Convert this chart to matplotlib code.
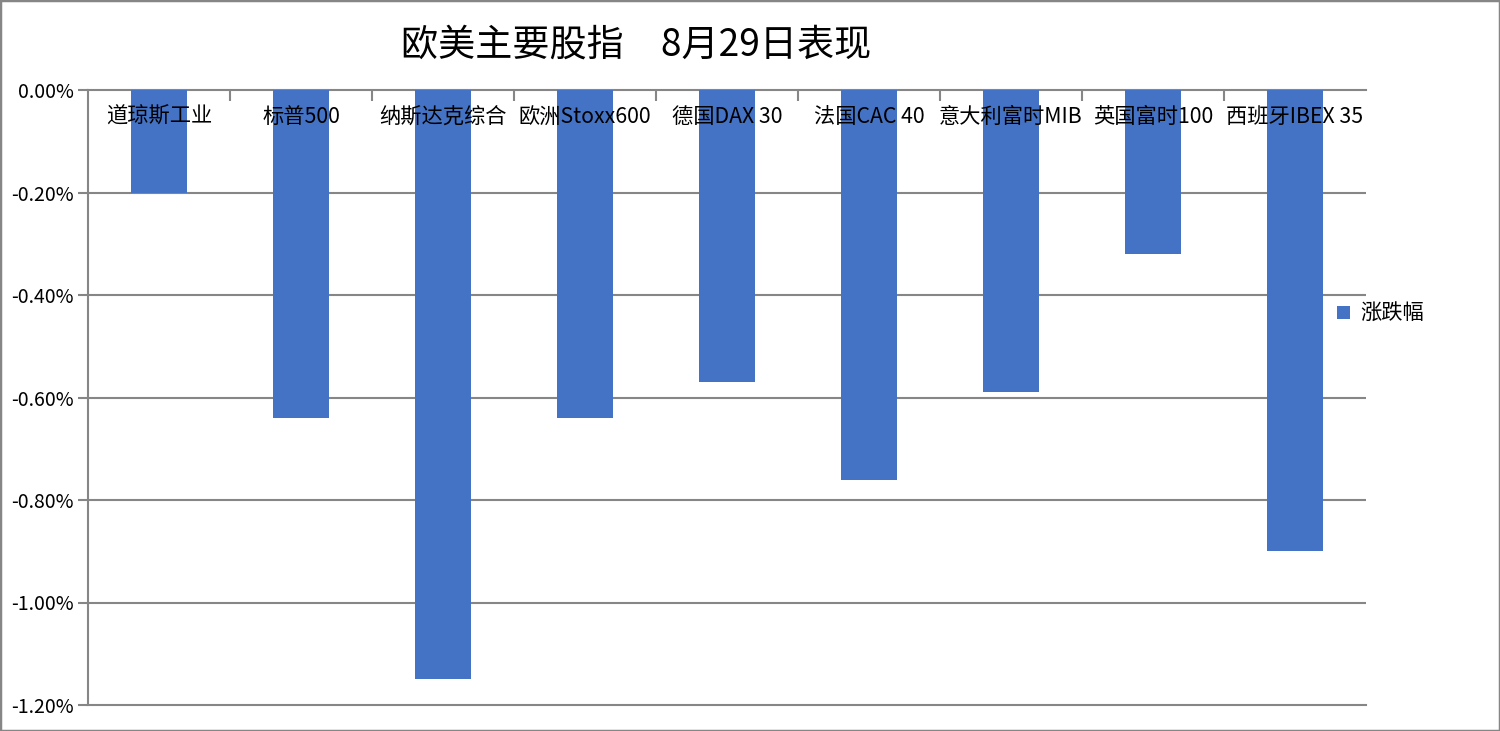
import matplotlib
matplotlib.use("Agg")
import matplotlib.pyplot as plt
from matplotlib.patches import Rectangle

plt.rcParams['font.family'] = ['Noto Sans CJK SC', 'DejaVu Sans']

# data
indices = ['道琼斯工业', '标普500', '纳斯达克综合', '欧洲Stoxx600', '德国DAX 30',
           '法国CAC 40', '意大利富时MIB', '英国富时100', '西班牙IBEX 35']
changes = [-0.20, -0.64, -1.15, -0.64, -0.57, -0.76, -0.59, -0.32, -0.90]
yticks = [0.0, -0.2, -0.4, -0.6, -0.8, -1.0, -1.2]
title = '欧美主要股指　8月29日表现'
series_name = '涨跌幅'

bar_color = '#4472C4'
line_color = '#868686'

fig = plt.figure(figsize=(15, 7.31), dpi=100)
ax = fig.add_axes([88 / 1500, 1 - 705 / 731, 1278 / 1500, 615 / 731])

x = list(range(len(indices)))
ax.bar(x, changes, width=0.4, color=bar_color, zorder=3, label=series_name)

ax.set_xlim(-0.5, len(indices) - 0.5)
ax.set_ylim(-1.2, 0)

# y axis
ax.set_yticks(yticks)
ax.set_yticklabels([f'{v:.2f}%' for v in yticks], fontsize=14)
ax.tick_params(axis='y', direction='out', length=7, width=1.5, color=line_color, pad=3)
for v in yticks[1:-1]:
    ax.axhline(v, color=line_color, lw=1.5, zorder=1)

# x axis (zero line on top) with ticks between categories
ax.set_xticks([])
ax.set_xticks([i + 0.5 for i in x[:-1]], minor=True)
ax.tick_params(axis='x', which='minor', top=True, bottom=False, direction='in',
               length=8, width=1.5, color=line_color)
for i, name in enumerate(indices):
    ax.text(i, -0.0525, name, ha='center', va='center', fontsize=15.3, zorder=5)

for side in ['top', 'left', 'bottom']:
    ax.spines[side].set_color(line_color)
    ax.spines[side].set_linewidth(1.5)
ax.spines['right'].set_visible(False)

leg = ax.legend(loc='center left', bbox_to_anchor=(1318 / 1500, 1 - 314 / 731),
                bbox_transform=fig.transFigure, frameon=False, fontsize=15.3,
                handlelength=0.6, handleheight=0.6, handletextpad=0.5)

fig.text(636 / 1500, 1 - 45 / 731, title, ha='center', va='center', fontsize=26.7)

fig.patches.append(Rectangle((0, 0), 1, 1, transform=fig.transFigure, fill=False,
                             edgecolor=line_color, linewidth=2.5))

fig.savefig('out.png', dpi=100)
